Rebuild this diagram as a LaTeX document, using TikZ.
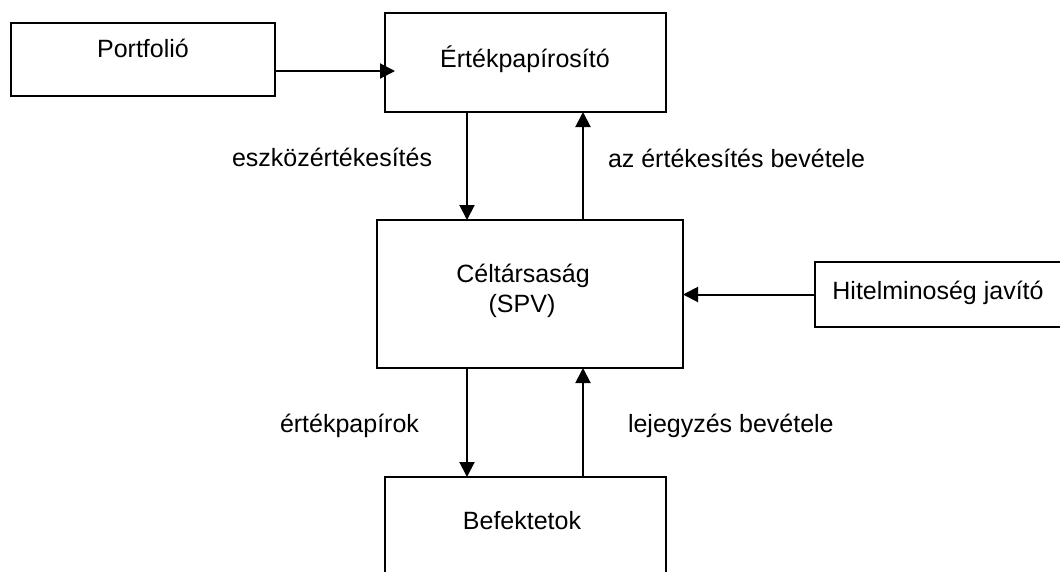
\documentclass[tikz,border=0pt]{standalone}
\usepackage{fontspec}
\setmainfont{Liberation Sans}
\usetikzlibrary{arrows.meta}
\begin{document}
\begin{tikzpicture}[x=1pt,y=-1pt,
 box/.style={draw, line width=2pt, inner sep=0pt, outer sep=0pt},
 lbl/.style={inner sep=0pt, outer sep=0pt, font=\fontsize{25}{30}\selectfont},
 arr/.style={line width=2pt, -{Triangle[length=15pt,width=15pt]}}]
\useasboundingbox (0,0) rectangle (1060,571);
\clip (0,0) rectangle (1060,571);
% boxes
\node[box, minimum width=264pt, minimum height=73pt] (port) at (143,59.5) {};
\node[box, minimum width=281pt, minimum height=99pt] (ert) at (525.5,62.5) {};
\node[box, minimum width=306pt, minimum height=148pt] (spv) at (530,294) {};
\node[box, minimum width=260pt, minimum height=65pt] (hit) at (945,294.5) {};
\node[box, minimum width=281pt, minimum height=123pt] (bef) at (525.5,538.5) {};
% box texts
\node[lbl, anchor=base] (tport) at (143,57) {Portfolió};
\node[lbl, anchor=base] (tert) at (525,67) {Értékpapírosító};
\node[lbl, anchor=base] (tspv1) at (523,282) {Céltársaság};
\node[lbl, anchor=base] (tspv2) at (522,312) {(SPV)};
\node[lbl, anchor=base] (thit) at (938,299) {Hitelminoség javító};
\node[lbl, anchor=base] (tbef) at (522,529) {Befektetok};
% edge labels
\node[lbl, anchor=base west] (l1) at (232,166) {eszközértékesítés};
\node[lbl, anchor=base west] (l2) at (608,167) {az értékesítés bevétele};
\node[lbl, anchor=base west] (l3) at (280,432) {értékpapírok};
\node[lbl, anchor=base west] (l4) at (628,432) {lejegyzés bevétele};
% connectors
\coordinate (pin) at (395,71);
\coordinate (xa) at (467,0);
\coordinate (xb) at (583,0);
\draw[arr] (port.east |- pin) -- (pin);
\draw[arr] (ert.south -| xa) -- (spv.north -| xa);
\draw[arr] (spv.north -| xb) -- (ert.south -| xb);
\draw[arr] (spv.south -| xa) -- (bef.north -| xa);
\draw[arr] (bef.north -| xb) -- (spv.south -| xb);
\draw[arr] (hit.west) -- (spv.east |- hit.west);
\end{tikzpicture}
\end{document}
